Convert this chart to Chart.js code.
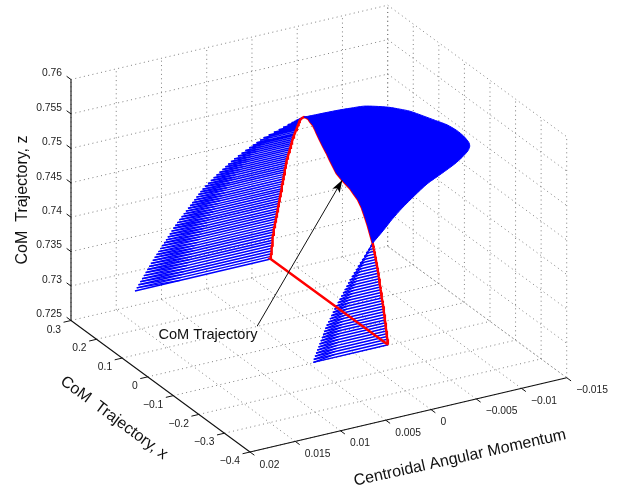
<!DOCTYPE html>
<html>
<head>
<meta charset="utf-8">
<title>CoM Trajectory</title>
<style>html,body{margin:0;padding:0;background:#fff}canvas{display:block}</style>
<script src="https://cdn.jsdelivr.net/npm/chart.js@4"></script>
</head>
<body>
<canvas id="c" width="623" height="487"></canvas>
<script>
const amTicks = [0.02,0.015,0.01,0.005,0,-0.005,-0.01,-0.015];
const amTickLabels = ['0.02','0.015','0.01','0.005','0','\u22120.005','\u22120.01','\u22120.015'];
const xTicks = [0.3,0.2,0.1,0,-0.1,-0.2,-0.3,-0.4];
const xTickLabels = ['0.3','0.2','0.1','0','\u22120.1','\u22120.2','\u22120.3','\u22120.4'];
const zTicks = [0.725,0.73,0.735,0.74,0.745,0.75,0.755,0.76];
const zTickLabels = ['0.725','0.73','0.735','0.74','0.745','0.75','0.755','0.76'];

// rising part of the trajectory (am = 0 plane) with the angular momentum reached
const riseX = [.2269,.2258,.2248,.2237,.2226,.2216,.2205,.2195,.2184,.2174,.2159,.2140,.2124,.2104,.2085,.2065,.2046,.2026,.2007,.1987,.1971,.1952,.1932,.1917,.1897,.1878,.1862,.1842,.1827,.1811,.1792,.1776,.1760,.1745,.1729,.1709,.1694,.1678,.1662,.1647,.1623,.1596,.1572,.1549,.1526,.1502,.1479,.1455,.1436,.1412,.1389,.1361,.1330,.1303,.1275,.1248,.1224,.1197,.1177,.1154,.1134,.1103,.1064,.1025,.0966];
const riseZ = [.72975,.73017,.73059,.73102,.73144,.73186,.73228,.73270,.73312,.73354,.73397,.73440,.73482,.73525,.73569,.73612,.73655,.73698,.73741,.73784,.73826,.73868,.73909,.73950,.73992,.74033,.74074,.74114,.74153,.74192,.74232,.74271,.74311,.74348,.74386,.74424,.74462,.74500,.74537,.74574,.74612,.74651,.74690,.74728,.74765,.74802,.74839,.74876,.74910,.74945,.74981,.75016,.75052,.75086,.75119,.75151,.75183,.75213,.75240,.75269,.75293,.75319,.75344,.75366,.75392];
const riseAm = [.01500,.01483,.01467,.01450,.01434,.01417,.01400,.01384,.01367,.01351,.01334,.01319,.01303,.01288,.01272,.01257,.01242,.01226,.01211,.01195,.01180,.01165,.01150,.01134,.01115,.01096,.01076,.01058,.01039,.01021,.01002,.00983,.00965,.00947,.00929,.00911,.00887,.00860,.00833,.00807,.00782,.00756,.00730,.00705,.00680,.00656,.00628,.00592,.00557,.00522,.00487,.00454,.00422,.00390,.00359,.00310,.00260,.00214,.00170,.00127,.00090,.00055,.00030,.00015,.00000];
const riseAmInner = [.0100,.0099,.0098,.0097,.0096,.0094,.0093,.0092,.0091,.0090,.0089,.0088,.0087,.0086,.0085,.0084,.0083,.0082,.0081,.0080,.0079,.0078,.0077,.0076,.0074,.0073,.0072,.0070,.0069,.0068,.0067,.0065,.0064,.0063,.0062,.0061,.0059,.0057,.0056,.0054,.0052,.0050,.0049,.0047,.0045,.0044,.0042,.0039,.0037,.0035,.0032,.0030,.0028,.0026,.0024,.0021,.0017,.0014,.0011,.0008,.0006,.0004,.0002,.0001,.0000];

// crest of the trajectory, where the angular momentum swings negative
const crestX = [.0966,.0888,.0837,.0790,.0732,.0614,.0536,.0470,.0341,.0211,.0078,-.0051,-.0180,-.0313,-.0422,-.0532,-.0676,-.0833,-.0989,-.1157,-.1302,-.1419,-.1525,-.1615,-.1721];
const crestZ = [.75392,.75406,.75410,.75411,.75391,.75372,.75335,.75296,.75229,.75167,.75112,.75045,.74985,.74924,.74906,.74886,.74867,.74848,.74808,.74766,.74690,.74595,.74504,.74408,.74296];
const crestAm = [0,-.0033,-.0048,-.0061,-.0072,-.0084,-.0094,-.0103,-.0114,-.0124,-.0133,-.0140,-.0144,-.0146,-.0144,-.0139,-.0129,-.0116,-.0097,-.0076,-.0058,-.0041,-.0027,-.0015,0];

// falling part of the trajectory
const fallX = [-.1721,-.1740,-.1760,-.1779,-.1803,-.1822,-.1842,-.1861,-.1881,-.1900,-.1920,-.1940,-.1955,-.1971,-.1987,-.2002,-.2018,-.2033,-.2049,-.2065,-.2080,-.2096,-.2116,-.2131,-.2147,-.2163,-.2174,-.2190,-.2202,-.2217,-.2229,-.2241,-.2256,-.2268,-.2280,-.2295,-.2307,-.2319];
const fallZ = [.74296,.74261,.74226,.74192,.74158,.74124,.74089,.74055,.74020,.73985,.73951,.73916,.73880,.73845,.73809,.73774,.73738,.73702,.73667,.73631,.73595,.73560,.73525,.73489,.73454,.73418,.73381,.73346,.73309,.73273,.73236,.73200,.73164,.73127,.73091,.73055,.73018,.72981];
const fallAm = [0,.00029,.00058,.00088,.00117,.00146,.00175,.00203,.00231,.00259,.00287,.00315,.00338,.00361,.00385,.00408,.00432,.00455,.00479,.00502,.00525,.00547,.00569,.00590,.00612,.00634,.00652,.00669,.00685,.00702,.00718,.00735,.00751,.00768,.00784,.00801,.00817,.00825];
const fallAmInner = [0,.0002,.0004,.0006,.0008,.0011,.0013,.0015,.0017,.0019,.0021,.0023,.0024,.0026,.0028,.0029,.0031,.0033,.0034,.0036,.0038,.0039,.0041,.0042,.0044,.0046,.0047,.0048,.0049,.0051,.0052,.0053,.0054,.0055,.0056,.0058,.0059,.0059];

// annotation anchors (am = 0 plane): tail, tip
const noteX = [.2793,-.0532];
const noteZ = [.71860,.74886];
const noteText = 'CoM Trajectory';
const amTitle = 'Centroidal Angular Momentum';
const xTitle = 'CoM  Trajectory, x';
const zTitle = 'CoM  Trajectory, z';

// orthographic view of the 3-D box onto the flat Chart.js scales
const amLo = amTicks[amTicks.length-1], amHi = amTicks[0];
const xLo = xTicks[xTicks.length-1], xHi = xTicks[0];
const zLo = zTicks[0], zHi = zTicks[zTicks.length-1];
function view(am, x, z){
  const a = (amHi-am)/(amHi-amLo), b = (xHi-x)/(xHi-xLo), c = (z-zLo)/(zHi-zLo);
  return {x: 71 + 316.7*a + 179*b, y: 320.5 - 74.3*a + 131.5*b - 241*c};
}
const gap = {x: NaN, y: NaN};
function segs(list){
  const out = [];
  list.forEach(([p,q]) => { out.push(view(...p), view(...q), gap); });
  return out;
}

// grid on the floor and on the two back walls
const gridPairs = [];
amTicks.forEach(t => {
  if (t !== amHi) gridPairs.push([[t,xLo,zLo],[t,xHi,zLo]]);
  gridPairs.push([[t,xHi,zLo],[t,xHi,zHi]]);
});
xTicks.forEach(t => {
  if (t !== xHi) gridPairs.push([[amHi,t,zLo],[amLo,t,zLo]]);
  gridPairs.push([[amLo,t,zLo],[amLo,t,zHi]]);
});
zTicks.forEach(t => {
  gridPairs.push([[amHi,xHi,t],[amLo,xHi,t]]);
  gridPairs.push([[amLo,xHi,t],[amLo,xLo,t]]);
});
// solid axes and tick marks
const axisPairs = [
  [[amHi,xHi,zLo],[amHi,xHi,zHi]],
  [[amHi,xHi,zLo],[amHi,xLo,zLo]],
  [[amHi,xLo,zLo],[amLo,xLo,zLo]]
];
const amTickStub = 0.0235, xTickStub = 0.0245;
const axisTicks = [];
zTicks.forEach(t => axisTicks.push([[amHi,xHi,t],[amHi,xHi+xTickStub*(xHi-xLo),t]]));
xTicks.forEach(t => axisTicks.push([[amHi,t,zLo],[amHi+amTickStub*(amHi-amLo),t,zLo]]));
amTicks.forEach(t => axisTicks.push([[t,xLo,zLo],[t,xLo-xTickStub*(xHi-xLo),zLo]]));

function stems(X,Z,Am){ return X.map((v,i)=>[[0,v,Z[i]],[Am[i],v,Z[i]]]); }
function weave(X,Z,Am,Inner){
  const out=[];
  for(let i=0;i<X.length-1;i++) out.push([[Inner[i],X[i],Z[i]],[Am[i+1],X[i+1],Z[i+1]]]);
  return out;
}
const redPts = [];
redPts.push(view(0,fallX[fallX.length-1],fallZ[fallZ.length-1]));
redPts.push(view(0,riseX[0],riseZ[0]));
riseX.forEach((v,i)=>redPts.push(view(0,v,riseZ[i])));
crestX.forEach((v,i)=>redPts.push(view(0,v,crestZ[i])));
fallX.forEach((v,i)=>redPts.push(view(0,v,fallZ[i])));

const crestShape = [];
crestX.forEach((v,i)=>crestShape.push(view(0,v,crestZ[i])));
for(let i=crestX.length-1;i>=0;i--) crestShape.push(view(crestAm[i],crestX[i],crestZ[i]));
crestShape.push(crestShape[0]);

function ln(data,color,width,order,extra){
  return Object.assign({type:'scatter',showLine:true,data,borderColor:color,backgroundColor:color,
    borderWidth:width,pointRadius:0,pointHoverRadius:0,order,spanGaps:false,
    borderCapStyle:'butt',borderJoinStyle:'miter',tension:0},extra||{});
}
const tip = view(0,noteX[1],noteZ[1]), tail = view(0,noteX[0],noteZ[0]);

const chrome = {
  id:'chrome',
  afterDatasetsDraw(chart){
    const ctx = chart.ctx, sx = chart.scales.x, sy = chart.scales.y;
    const P = p => ({x:sx.getPixelForValue(p.x), y:sy.getPixelForValue(p.y)});
    ctx.save();
    // arrow head
    const T = P(tip), A = P(tail);
    const L = Math.hypot(T.x-A.x,T.y-A.y), ux=(T.x-A.x)/L, uy=(T.y-A.y)/L;
    ctx.fillStyle='#000';
    ctx.beginPath();
    ctx.moveTo(T.x,T.y);
    ctx.lineTo(T.x-12.5*ux-4.2*uy, T.y-12.5*uy+4.2*ux);
    ctx.lineTo(T.x-9.5*ux, T.y-9.5*uy);
    ctx.lineTo(T.x-12.5*ux+4.2*uy, T.y-12.5*uy-4.2*ux);
    ctx.closePath(); ctx.fill();
    // tick labels
    ctx.fillStyle='#222';
    ctx.font='10.3px "Liberation Sans"';
    ctx.textBaseline='middle';
    ctx.textAlign='right';
    zTicks.forEach((t,i)=>{const p=P(view(amHi,xHi,t));ctx.fillText(zTickLabels[i],p.x-9,p.y-6);});
    xTicks.forEach((t,i)=>{const p=P(view(amHi,t,zLo));ctx.fillText(xTickLabels[i],p.x-10,p.y+9.3);});
    ctx.textAlign='left';
    amTicks.forEach((t,i)=>{const p=P(view(t,xLo,zLo));ctx.fillText(amTickLabels[i],p.x+9.5,p.y+12.7);});
    // axis titles
    ctx.fillStyle='#111';
    ctx.font='16px "Liberation Sans"';
    ctx.textAlign='center';
    const title=(s,x,y,deg)=>{ctx.save();ctx.translate(x,y);ctx.rotate(deg*Math.PI/180);ctx.fillText(s,0,0);ctx.restore();};
    title(zTitle,22.5,200,-90);
    title(xTitle,114,418,36.5);
    title(amTitle,460,458,-12.5);
    ctx.font='14.6px "Liberation Sans"';
    ctx.fillText(noteText,208,335);
    ctx.restore();
  }
};

new Chart(document.getElementById('c').getContext('2d'),{
  data:{datasets:[
    ln(segs(gridPairs),'#707070',0.9,90,{borderDash:[1,3.4]}),
    ln(segs(axisPairs),'#111',1.1,80),
    ln(segs(axisTicks),'#111',1,80),
    ln(segs(stems(riseX,riseZ,riseAm)),'#0000ff',1.5,60),
    ln(segs(weave(riseX,riseZ,riseAm,riseAmInner)),'#0000ff',1.3,59),
    ln(segs(stems(fallX,fallZ,fallAm)),'#0000ff',1.5,58),
    ln(segs(weave(fallX,fallZ,fallAm,fallAmInner)),'#0000ff',1.3,57),
    ln(redPts,'#ff0000',2.5,40),
    ln(crestShape,'#0000ff',1,30,{fill:'shape',tension:0.25}),
    ln([tail,tip],'#111',1,10)
  ]},
  plugins:[chrome],
  options:{
    responsive:false,animation:false,
    layout:{padding:0},
    plugins:{legend:{display:false},tooltip:{enabled:false},title:{display:false}},
    events:[],
    scales:{
      x:{type:'linear',min:0,max:623,display:false},
      y:{type:'linear',min:0,max:487,reverse:true,display:false}
    }
  }
});
</script>
</body>
</html>
